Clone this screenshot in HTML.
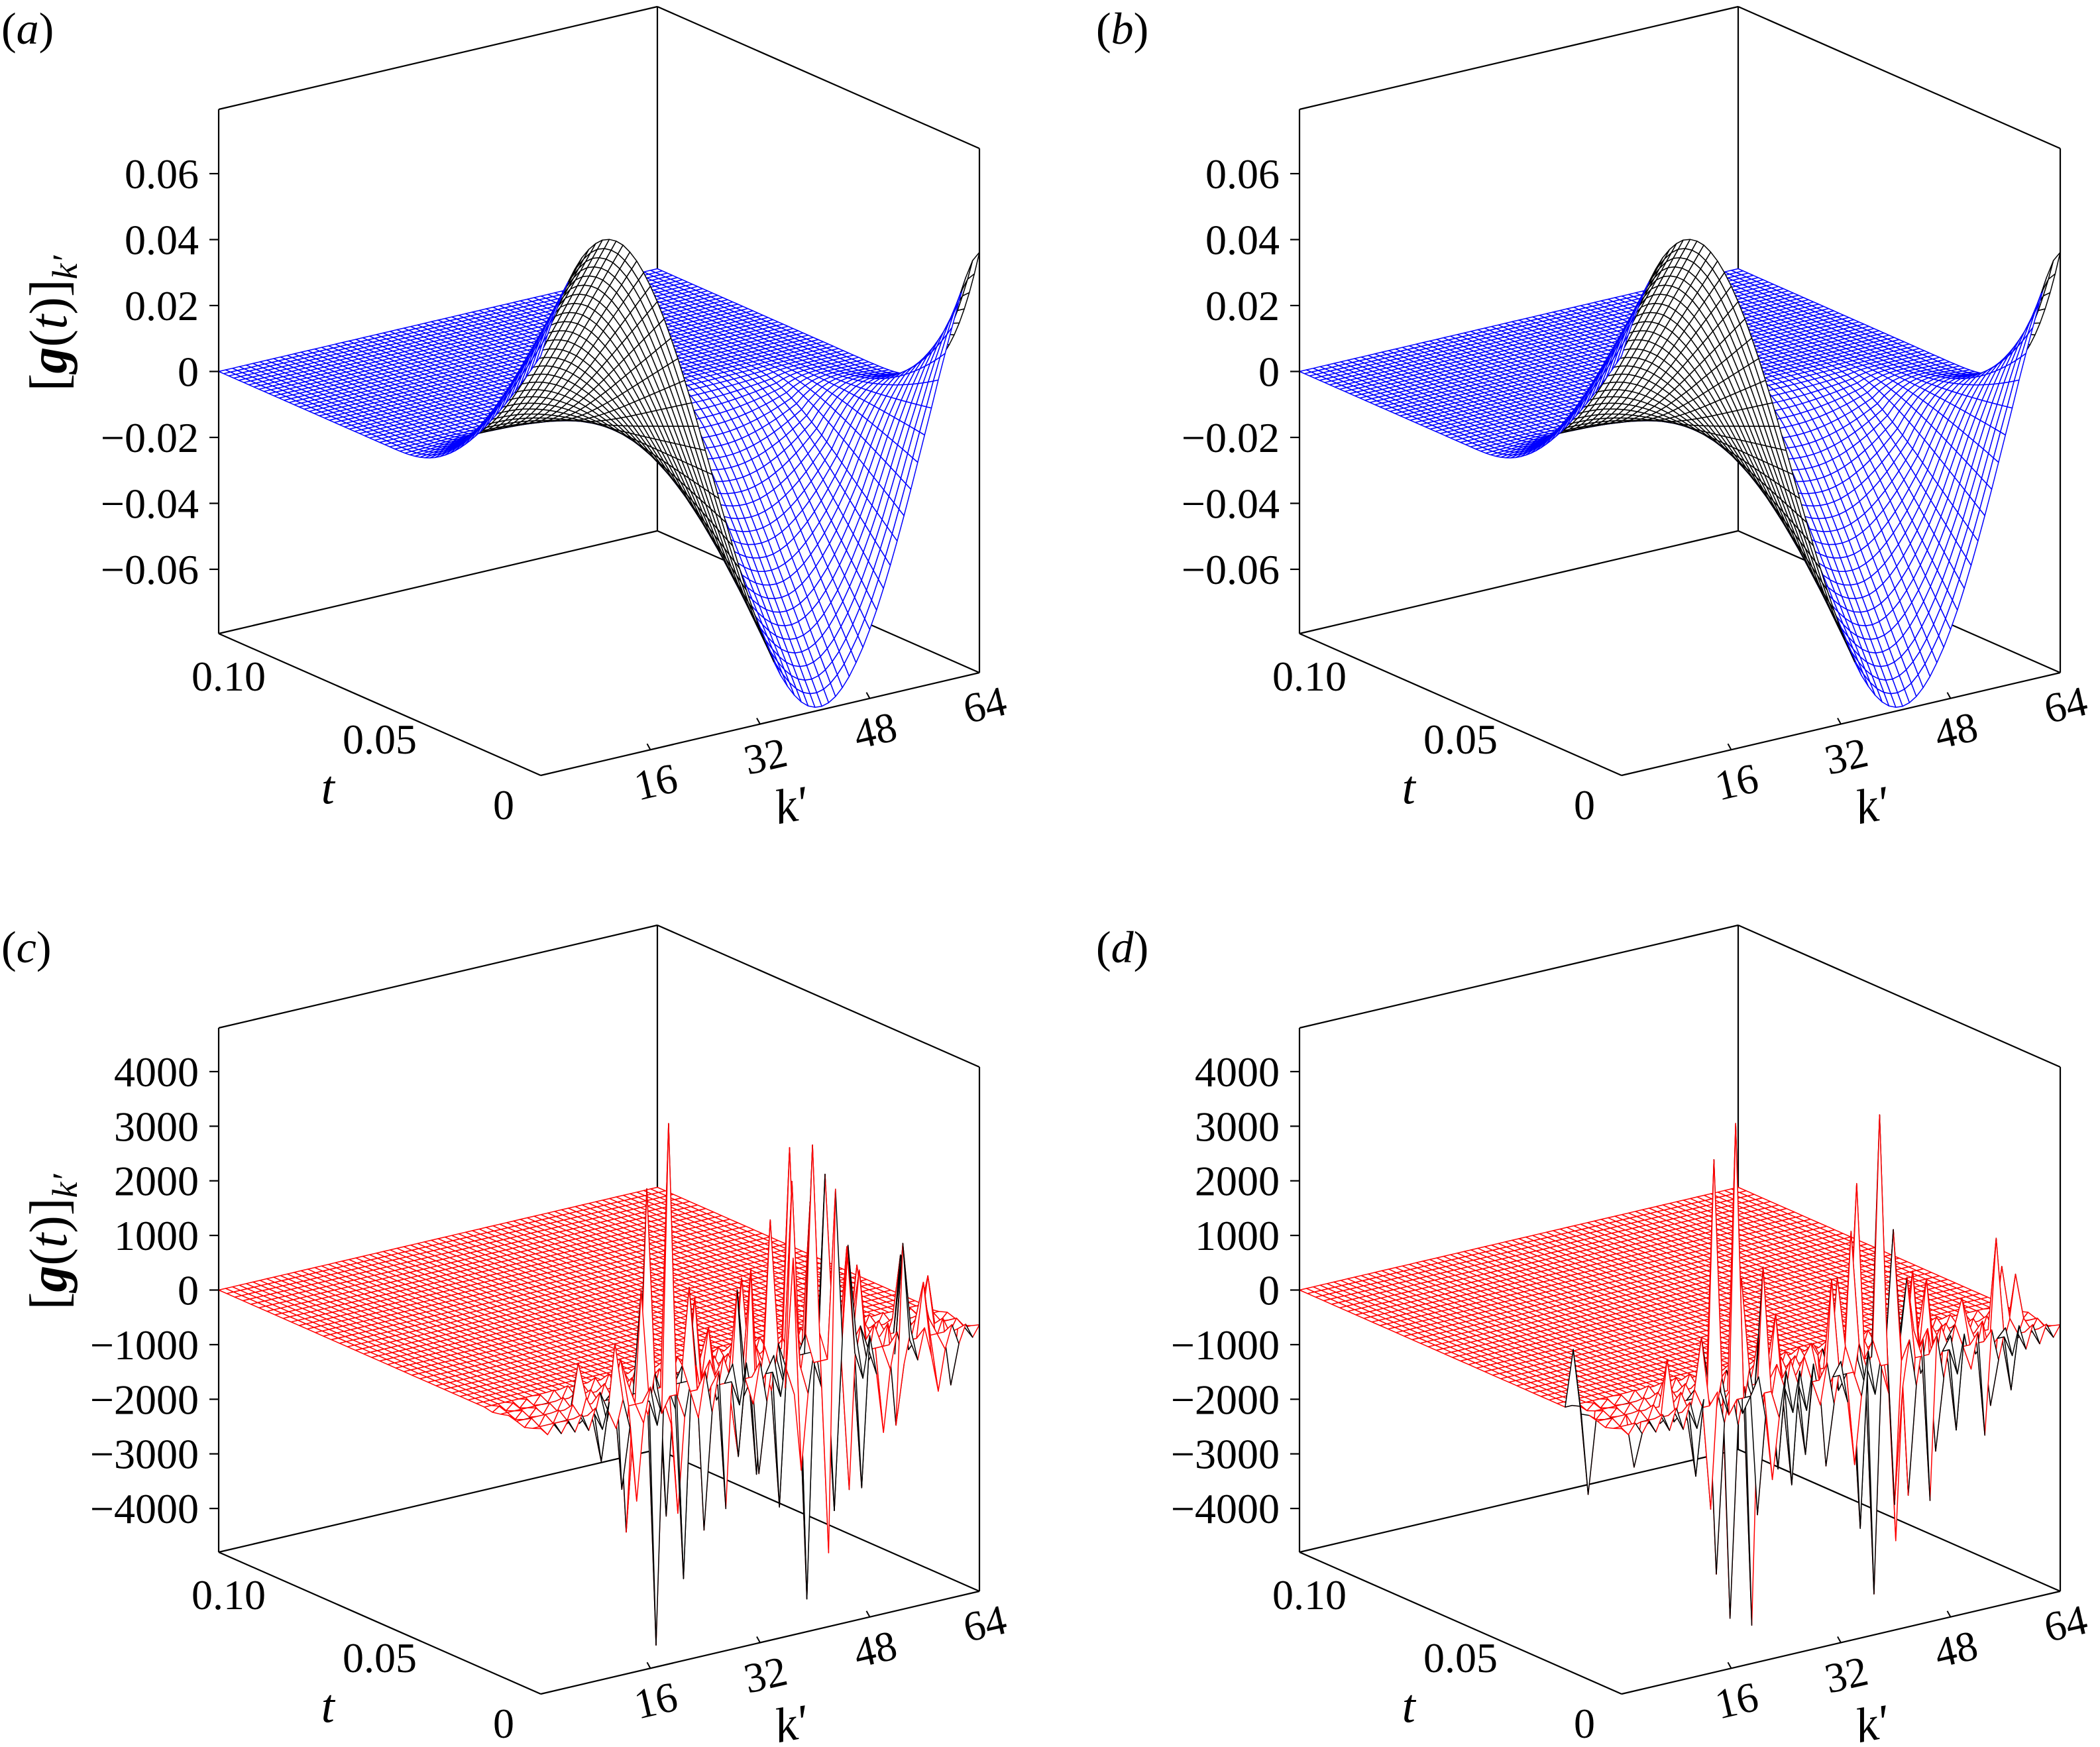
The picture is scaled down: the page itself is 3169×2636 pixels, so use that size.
<!DOCTYPE html>
<html><head><meta charset="utf-8"><title>g(t) surfaces</title>
<style>
html,body{margin:0;padding:0;background:#fff;}
svg{display:block;}
text{font-family:"Liberation Serif","DejaVu Serif",serif;fill:#000;}
</style></head>
<body>
<svg id="chart" xmlns="http://www.w3.org/2000/svg" width="3169" height="2636" viewBox="0 0 3169 2636">
<rect x="0" y="0" width="3169" height="2636" fill="#fff"/>
</svg>
<script>
// ---------- data ----------
const kVals = [0,1,2,3,4,5,6,7,8,9,10,11,12,13,14,15,16,17,18,19,20,21,22,23,24,25,26,27,28,29,30,31,32,33,34,35,36,37,38,39,40,41,42,43,44,45,46,47,48,49,50,51,52,53,54,55,56,57,58,59,60,61,62,63,64];
const tValsAB = [0,.00156,.00313,.00469,.00625,.00781,.00938,.01094,.0125,.01406,.01563,.01719,.01875,.02031,.02188,.02344,.025,.02656,.02813,.02969,.03125,.03281,.03438,.03594,.0375,.03906,.04063,.04219,.04375,.04531,.04688,.04844,.05,
.05156,.05313,.05469,.05625,.05781,.05938,.06094,.0625,.06406,.06563,.06719,.06875,.07031,.07188,.07344,.075,.07656,.07813,.07969,.08125,.08281,.08438,.08594,.0875,.08906,.09063,.09219,.09375,.09531,.09688,.09844,.1];
const profileA = [.0477,.0537,.0591,.0640,.0682,.0717,.0746,.0766,.0779,.0785,.0782,.0772,.0755,.0729,.0697,.0657,.0611,.0559,.0502,.0439,.0372,.0301,.0228,.0152,.0074,-.0004,-.0082,-.0159,-.0235,-.0308,-.0379,-.0446,-.0508,-.0565,-.0616,-.0662,-.0700,-.0732,-.0757,-.0774,-.0783,-.0785,-.0779,-.0765,-.0743,-.0714,-.0677,-.0635,-.0586,-.0532,-.0471,-.0406,-.0337,-.0265,-.0190,-.0113,-.0035,.0042,.0122,.0198,.0272,.0344,.0413,.0460,.0480];
const decayA = [1,.956,.912,.868,.824,.78,.736,.692,.648,.604,.56,.516,.472,.43,.388,.347,.307,.268,.231,.196,.163,.132,.104,.079,.057,.039,.024,.013,.006,.002,0,0,0,0,0,0,0,0,0,0,0,0,0,0,0,0,0,0,0,0,0,0,0,0,0,0,0,0,0,0,0,0,0,0,0];
const decayRateA = [1.4,1.35,1.3,1.25,1.2,1.15,1.1,1.05,1,1,1,1,1,1,1,1,1,1,1,1,1,1,1,1,1,1,1,1,1,1,1,1,1,1,1,1,1,1,1,1,1,1,1,1,1,1,1,1,1,1,1,1,1,1.1,1.2,1.35,1.5,1.7,1.9,2.1,2.4,2.7,3,3.3,3.6];
const profileB = [.0477,.0537,.0591,.0640,.0682,.0717,.0746,.0766,.0779,.0785,.0782,.0772,.0755,.0729,.0697,.0657,.0611,.0559,.0502,.0439,.0372,.0301,.0228,.0152,.0074,-.0004,-.0082,-.0159,-.0235,-.0308,-.0379,-.0446,-.0508,-.0565,-.0616,-.0662,-.0700,-.0732,-.0757,-.0774,-.0783,-.0785,-.0779,-.0765,-.0743,-.0714,-.0677,-.0635,-.0586,-.0532,-.0471,-.0406,-.0337,-.0265,-.0190,-.0113,-.0035,.0042,.0122,.0198,.0272,.0344,.0413,.0460,.0480];
const decayB = [1,.956,.912,.868,.824,.78,.736,.692,.648,.604,.56,.516,.472,.43,.388,.347,.307,.268,.231,.196,.163,.132,.104,.079,.057,.039,.024,.013,.006,.002,0,0,0,0,0,0,0,0,0,0,0,0,0,0,0,0,0,0,0,0,0,0,0,0,0,0,0,0,0,0,0,0,0,0,0];
const decayRateB = [1.4,1.35,1.3,1.25,1.2,1.15,1.1,1.05,1,1,1,1,1,1,1,1,1,1,1,1,1,1,1,1,1,1,1,1,1,1,1,1,1,1,1,1,1,1,1,1,1,1,1,1,1,1,1,1,1,1,1,1,1,1.1,1.2,1.35,1.5,1.7,1.9,2.1,2.4,2.7,3,3.3,3.6];

const tValsCD = [0,.0025,.005,.0075,.01,.0125,.015,.0175,.02,.0225,.025,.0275,.03,.0325,.035,.0375,.04,.0425,.045,.0475,.05,.0525,.055,.0575,.06,.0625,.065,.0675,.07,.0725,.075,.0775,.08,.0825,.085,.0875,.09,.0925,.095,.0975,.1];
const noiseRowIdx = [0,2,4,6];
const band0 = [60,-80,100,-120,90,-150,140,-180,200,-220,250,-260,240,-300,320,-280,350,-380,300,-400,420,-350,380,-420,400,-380,350,-400,420,-360,380,-400,350,-420,400,-380,420,-400,380,-450,420,-400,450,-420,400,-380,420,-400,350,-380,320,-350,300,-320,280,-300,260,-280,240,-220,200,-180,150,-120,80];
const band1 = [-50,90,-110,100,-140,120,-170,160,-210,230,-240,270,-290,260,-310,330,-300,360,-350,390,-380,400,-360,410,-390,370,-410,390,-370,400,-390,360,-410,390,-370,410,-430,400,-440,410,-430,460,-410,430,-390,400,-410,380,-360,370,-330,340,-310,300,-290,280,-270,250,-230,210,-190,160,-130,100,-60];
const band2 = [40,-60,70,-80,60,-100,90,-120,130,-150,170,-180,160,-200,210,-190,230,-250,200,-260,280,-230,250,-280,260,-250,230,-260,280,-240,250,-260,230,-280,260,-250,280,-260,250,-300,280,-260,300,-280,260,-250,280,-260,230,-250,210,-230,200,-210,190,-200,170,-190,160,-150,130,-120,100,-80,50];
const band3 = [-30,50,-60,50,-70,60,-80,80,-100,110,-120,130,-140,130,-150,160,-150,170,-170,190,-180,190,-170,200,-190,180,-200,190,-180,190,-190,170,-200,190,-180,200,-210,190,-210,200,-210,220,-200,210,-190,190,-200,180,-170,180,-160,160,-150,150,-140,140,-130,120,-110,100,-90,80,-60,50,-30];
// spikes: k index, t-row index, value
const spikeKC   = [21,19,42,41,39,43,37,45,46,54,56,14,9,52,58,31,28,34, 12,17,20,24,26,33,38,44,47,50,55,60,57,
  18,16,22,40,42,36,23,14,10,35,48, 13,20,25,27,33,38,44,45,50,53,58,61,30];
const spikeRowC = [2,3,2,4,2,0,3,3,1,1,3,2,3,5,2,2,3,4, 1,2,4,2,3,2,1,4,2,3,2,3,1,
  1,3,1,1,0,1,4,0,1,3,1, 1,0,1,0,1,0,1,0,0,1,0,1,1];
const spikeValC = [4500,3700,4300,4000,2900,3600,2600,3200,2000,1800,1400,1100,800,1200,1000,1200,900,1300, 1200,1600,2000,2200,1500,1500,2000,2400,1500,1300,1200,900,1000,
  -4500,-2500,-3400,-4300,-3900,-2500,-2200,-2000,-900,-2000,-2500, -1500,-2500,-2600,-1800,-1800,-2200,-2800,-2000,-1800,-1500,-1200,-1000,-1400];
const spikeKD   = [19,17,40,39,42,37,57,0,59,24,30,48, 14,21,23,26,33,35,41,44,46,52,61,9,
  17,19,15,38,40,36,43,1,24,12,50,55,28, 21,13,26,31,34,41,45,47,53,58,3,22];
const spikeRowD = [2,3,2,4,2,3,2,6,3,3,2,3, 2,3,2,3,2,3,3,2,3,2,3,2,
  1,0,1,1,0,1,1,5,1,1,1,1,1, 1,0,1,1,0,1,0,1,0,1,1,0];
const spikeValD = [4570,4290,4930,3440,2750,2390,1490,1150,1100,1300,1000,1200, 1500,2000,1800,1200,1300,1600,2200,1800,1400,1100,900,700,
  -3980,-3700,-3110,-4150,-3590,-2890,-2490,-1500,-1450,-1230,-1500,-1200,-1300, -2200,-1500,-1800,-1600,-2000,-2600,-2200,-1800,-1300,-1000,-800,-1900];

const zTicksAB = [0.06,0.04,0.02,0,-0.02,-0.04,-0.06];
const zTickLabelsAB = ['0.06','0.04','0.02','0','\u22120.02','\u22120.04','\u22120.06'];
const zTicksCD = [4000,3000,2000,1000,0,-1000,-2000,-3000,-4000];
const zTickLabelsCD = ['4000','3000','2000','1000','0','\u22121000','\u22122000','\u22123000','\u22124000'];
const tTicks = [0.10,0.05,0];
const tTickLabels = ['0.10','0.05','0'];
const kTicks = [16,32,48,64];
const kTickLabels = ['16','32','48','64'];

// ---------- projection ----------
const NS = 'http://www.w3.org/2000/svg';
const svg = document.getElementById('chart');
const O = {x:816, y:1170}, KV = {x:662, y:-155}, TV = {x:-486, y:-214}, H = 791;
const KMAX = 64, TMAX = 0.1;

function mk(tag, attrs, parent){
  const e = document.createElementNS(NS, tag);
  for (const a in attrs) e.setAttribute(a, attrs[a]);
  (parent||svg).appendChild(e);
  return e;
}
function project(ox, oy, k, t, z, zmin, zmax){
  const u = k/KMAX, v = t/TMAX, w = (z-zmin)/(zmax-zmin);
  return {x: ox+O.x+KV.x*u+TV.x*v, y: oy+O.y+KV.y*u+TV.y*v-H*w, d: 384426*u+523642*v-216998*w};
}
function bandGrid(spK, spR, spV){
  const bands=[band0,band1,band2,band3];
  const grid=[];
  for (let j=0;j<tValsCD.length;j++){
    const row=[];
    const bi = noiseRowIdx.indexOf(j);
    for (let i=0;i<kVals.length;i++) row.push(bi>=0 ? bands[bi][i] : 0);
    grid.push(row);
  }
  for (let s=0;s<spK.length;s++) grid[spR[s]][spK[s]] += spV[s];
  return grid;
}

function drawSurface(g, ox, oy, tVals, zAt, zmin, zmax, topColor){
  const pts = [];
  for (let j=0;j<tVals.length;j++){
    const row=[];
    for (let i=0;i<kVals.length;i++) row.push(project(ox,oy,kVals[i],tVals[j],zAt(i,j),zmin,zmax));
    pts.push(row);
  }
  const quads=[];
  for (let j=0;j<tVals.length-1;j++){
    for (let i=0;i<kVals.length-1;i++){
      const q=[pts[j][i],pts[j][i+1],pts[j+1][i+1],pts[j+1][i]];
      let area=0;
      for (let m=0;m<4;m++){const p=q[m],n=q[(m+1)%4];area+=p.x*n.y-n.x*p.y;}
      const d=(q[0].d+q[1].d+q[2].d+q[3].d)/4;
      quads.push({q,area,d});
    }
  }
  quads.sort((a,b)=>b.d-a.d);
  for (const Q of quads){
    const p = document.createElementNS(NS,'polygon');
    p.setAttribute('points', Q.q.map(o=>o.x.toFixed(1)+','+o.y.toFixed(1)).join(' '));
    p.setAttribute('fill','#fff');
    p.setAttribute('stroke', Q.area<0 ? topColor : '#000');
    p.setAttribute('stroke-width','1.5');
    p.setAttribute('stroke-linejoin','round');
    
    
    g.appendChild(p);
  }
}

function line(g,a,b,name){
  const l = mk('line',{x1:a.x,y1:a.y,x2:b.x,y2:b.y,stroke:'#000','stroke-width':2.2},g);
  
  
}

function panel(opt){
  const {ox, oy, letter, lx, zmin, zmax, zTicks, zLabels, tVals, zAt, color, showTitle} = opt;
  const g = mk('g',{},svg);
  
  
  const P=(k,t,z)=>project(ox,oy,k,t,z,zmin,zmax);
  line(g,P(0,TMAX,zmin),P(KMAX,TMAX,zmin),'box-back-bottom-edge');
  line(g,P(KMAX,TMAX,zmin),P(KMAX,0,zmin),'box-right-bottom-edge');
  line(g,P(KMAX,TMAX,zmin),P(KMAX,TMAX,zmax),'box-back-vertical-edge');
  line(g,P(0,TMAX,zmax),P(KMAX,TMAX,zmax),'box-top-left-edge');
  line(g,P(KMAX,TMAX,zmax),P(KMAX,0,zmax),'box-top-right-edge');
  const sg = mk('g',{},g);
  
  
  drawSurface(sg, ox, oy, tVals, zAt, zmin, zmax, color);
  line(g,P(0,TMAX,zmin),P(0,TMAX,zmax),'z-axis-line');
  line(g,P(0,TMAX,zmin),P(0,0,zmin),'t-axis-line');
  line(g,P(0,0,zmin),P(KMAX,0,zmin),'k-axis-line');
  line(g,P(KMAX,0,zmin),P(KMAX,0,zmax),'box-right-vertical-edge');
  for (let i=0;i<zTicks.length;i++){
    const p=P(0,TMAX,zTicks[i]);
    const tk = mk('line',{x1:p.x-14,y1:p.y,x2:p.x,y2:p.y,stroke:'#000','stroke-width':2.2},g);
    
    
    const tx = mk('text',{x:p.x-30,y:p.y+22,'font-size':64,'text-anchor':'end'},g);
    tx.textContent = zLabels[i];
    
    
  }
  const tOff=[{dx:15,dy:62},{dx:0,dy:50},{dx:-56,dy:42}];
  for (let i=0;i<tTicks.length;i++){
    const p=P(0,tTicks[i],zmin);
    const tx = mk('text',{x:p.x+tOff[i].dx,y:p.y+tOff[i].dy+24,'font-size':64,'text-anchor':'middle'},g);
    tx.textContent = tTickLabels[i];
    
    
  }
  const tp=P(0,0.055,zmin);
  const tt = mk('text',{x:tp.x-54,y:tp.y+160,'font-size':72,'font-style':'italic','text-anchor':'middle'},g);
  tt.textContent='t';
  
  
  for (let i=0;i<kTicks.length;i++){
    const p=P(kTicks[i],0,zmin);
    if (kTicks[i]<KMAX){
      const tk = mk('line',{x1:p.x,y1:p.y,x2:p.x-5,y2:p.y-9,stroke:'#000','stroke-width':2},g);
      
      
    }
    const cx=p.x+8, cy=p.y+48;
    const tx = mk('text',{x:cx,y:cy+22,'font-size':64,'text-anchor':'middle',transform:'rotate(-13 '+cx+' '+cy+')'},g);
    tx.textContent = kTickLabels[i];
    
    
  }
  const kp=P(34,0,zmin);
  const kx=kp.x+26, ky=kp.y+152;
  const kt = mk('text',{x:kx,y:ky,'font-size':74,'font-style':'italic','text-anchor':'middle',transform:'rotate(-10 '+kx+' '+(ky-25)+')'},g);
  kt.textContent='k\u2032';
  
  
  const pl = mk('text',{x:lx,y:oy+66,'font-size':68},g);
  pl.innerHTML = '(<tspan font-style="italic">'+letter+'</tspan>)';
  
  
  if (showTitle){
    const cy = oy+488;
    const yt = mk('text',{x:ox+100,y:cy,'font-size':80,'text-anchor':'middle',transform:'rotate(-90 '+(ox+100)+' '+cy+')'},g);
    yt.innerHTML='[<tspan font-weight="bold" font-style="italic">g</tspan>(<tspan font-style="italic">t</tspan>)]<tspan font-style="italic" font-size="54" dy="16">k\u2032</tspan>';
    
    
  }
}

panel({ox:0, oy:0, letter:'a', lx:2, zmin:-0.0795, zmax:0.0795, zTicks:zTicksAB, zLabels:zTickLabelsAB,
  tVals:tValsAB, zAt:(i,j)=>profileA[i]*Math.pow(decayA[j],decayRateA[i]), color:'#0000ff', showTitle:true});
panel({ox:1631, oy:0, letter:'b', lx:1654, zmin:-0.0795, zmax:0.0795, zTicks:zTicksAB, zLabels:zTickLabelsAB,
  tVals:tValsAB, zAt:(i,j)=>profileB[i]*Math.pow(decayB[j],decayRateB[i]), color:'#0000ff', showTitle:false});
const gridC = bandGrid(spikeKC, spikeRowC, spikeValC);
const gridD = bandGrid(spikeKD, spikeRowD, spikeValD);
panel({ox:0, oy:1386, letter:'c', lx:2, zmin:-4800, zmax:4800, zTicks:zTicksCD, zLabels:zTickLabelsCD,
  tVals:tValsCD, zAt:(i,j)=>gridC[j][i], color:'#ff0000', showTitle:true});
panel({ox:1631, oy:1386, letter:'d', lx:1654, zmin:-4800, zmax:4800, zTicks:zTicksCD, zLabels:zTickLabelsCD,
  tVals:tValsCD, zAt:(i,j)=>gridD[j][i], color:'#ff0000', showTitle:false});
</script>
</body></html>
